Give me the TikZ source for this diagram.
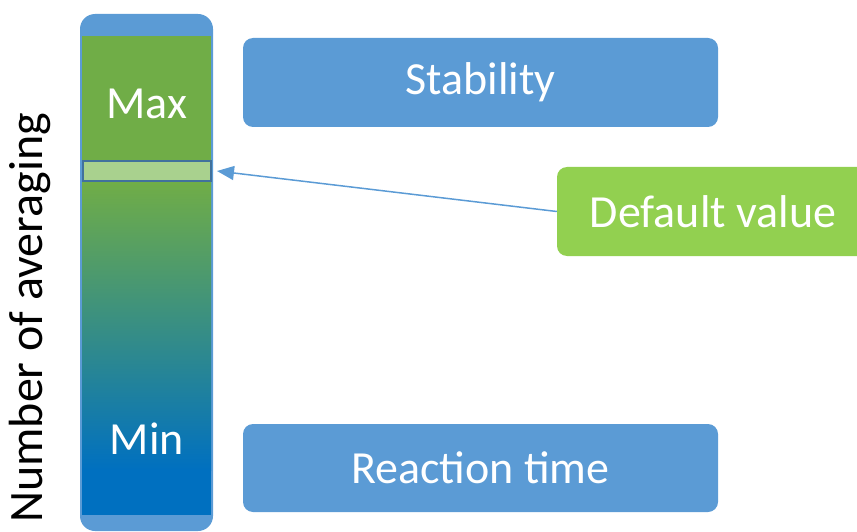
\documentclass[tikz,border=0pt]{standalone}
\usepackage{fontspec}
\setmainfont{Carlito}
\usetikzlibrary{arrows.meta}
\definecolor{capblue}{HTML}{5B9BD5}
\definecolor{bargreen}{HTML}{70AD47}
\definecolor{barblue}{HTML}{0070C0}
\definecolor{bandfill}{HTML}{A9D18E}
\definecolor{bandline}{HTML}{41719C}
\definecolor{dvgreen}{HTML}{92D050}
\tikzset{
  infobox/.style={draw=none, fill=capblue, rounded corners=10pt, text=white,
    font=\fontsize{46}{50}\selectfont, minimum width=475pt, minimum height=89pt,
    inner sep=0pt},
  barlabel/.style={text=white, font=\fontsize{46}{50}\selectfont, inner sep=0pt},
  pointer/.style={draw=capblue, line width=1.5pt, -{Triangle[length=17pt,width=14pt]}}
}
\begin{document}
\begin{tikzpicture}[x=1pt,y=-1pt]
  \useasboundingbox (0,0) rectangle (857,532);
  \clip (0,0) rectangle (857,532);
  % scale bar: rounded cap body with the coloured range inside
  \fill[capblue] (80,14) [rounded corners=15pt] rectangle (213,531);
  \fill[bargreen] (82,36) rectangle (211,183);
  \shade[top color=bargreen, bottom color=barblue] (82,182) rectangle (211,470);
  \fill[barblue] (82,469.5) rectangle (211,515);
  \node[barlabel] (max) at (147,104) {Max};
  \node[barlabel] (min) at (147,439) {Min};
  \node[draw=bandline, line width=2pt, fill=bandfill, minimum width=128pt,
        minimum height=20pt, inner sep=0pt] (band) at (147,171) {};
  % axis caption
  \node[rotate=90, font=\fontsize{48}{52}\selectfont, inner sep=0pt] (axis) at (30,318) {Number of averaging};
  % effect boxes
  \node[infobox] (stab) at (480.5,82.5) {Stability};
  \node[infobox, minimum height=88pt] (react) at (480.5,468) {Reaction time};
  \node[infobox, fill=dvgreen, minimum width=312pt] (dv) at (713,211.5) {Default value};
  \draw[pointer] (dv.west) -- ([xshift=5pt]band.east);
\end{tikzpicture}
\end{document}
